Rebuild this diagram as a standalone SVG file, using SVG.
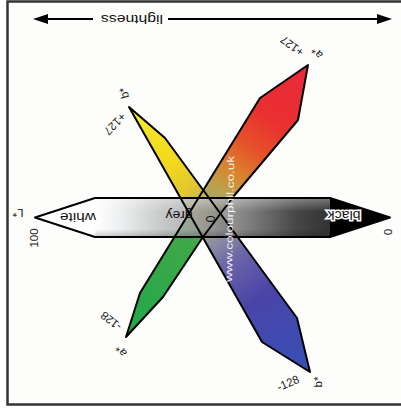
<svg xmlns="http://www.w3.org/2000/svg" width="401" height="411" viewBox="0 0 401 411">
<style>
.lbl{font-family:"Liberation Sans","DejaVu Sans",Arial,sans-serif;font-size:11.5px;fill:#1a1a1a;text-anchor:middle}
.big{font-family:"Liberation Sans","DejaVu Sans",Arial,sans-serif;font-size:12.5px;fill:#111;text-anchor:middle}
.edge{fill:none;stroke:#000;stroke-width:2;stroke-linejoin:round}
.ax{stroke:#000;stroke-width:2}
</style>
<defs>
<linearGradient id="gRG" gradientUnits="userSpaceOnUse" x1="308" y1="65" x2="126" y2="337">
<stop offset="0" stop-color="#e9283b"/>
<stop offset="0.2" stop-color="#ea3030"/>
<stop offset="0.31" stop-color="#e5532a"/>
<stop offset="0.40" stop-color="#d8862e"/>
<stop offset="0.47" stop-color="#b8a450"/>
<stop offset="0.56" stop-color="#9a9c80"/>
<stop offset="0.64" stop-color="#40a848"/>
<stop offset="1" stop-color="#1fa84a"/>
</linearGradient>
<linearGradient id="gYB" gradientUnits="userSpaceOnUse" x1="129" y1="107" x2="310" y2="372">
<stop offset="0" stop-color="#f6ec2a"/>
<stop offset="0.22" stop-color="#f4d81e"/>
<stop offset="0.32" stop-color="#e0c632"/>
<stop offset="0.40" stop-color="#b0aa70"/>
<stop offset="0.48" stop-color="#9696a0"/>
<stop offset="0.58" stop-color="#6a64a8"/>
<stop offset="0.72" stop-color="#4a44a8"/>
<stop offset="1" stop-color="#3650b8"/>
</linearGradient>
<linearGradient id="gL" gradientUnits="userSpaceOnUse" x1="95" y1="0" x2="330" y2="0">
<stop offset="0" stop-color="#ffffff"/>
<stop offset="0.12" stop-color="#e6e8ea"/>
<stop offset="0.3" stop-color="#b6b8b8"/>
<stop offset="0.5" stop-color="#929292"/>
<stop offset="0.7" stop-color="#505050"/>
<stop offset="0.86" stop-color="#181818"/>
<stop offset="1" stop-color="#000000"/>
</linearGradient>
<linearGradient id="gShade" x1="0" y1="0" x2="0" y2="1">
<stop offset="0" stop-color="#fff" stop-opacity="0.35"/>
<stop offset="0.35" stop-color="#fff" stop-opacity="0"/>
<stop offset="0.8" stop-color="#000" stop-opacity="0"/>
<stop offset="1" stop-color="#000" stop-opacity="0.2"/>
</linearGradient>
</defs>

<rect x="0" y="0" width="401" height="411" fill="#ffffff"/>
<g id="frame">
<rect x="7.5" y="1.5" width="410" height="403" fill="#fdfdfb" stroke="#333" stroke-width="2.5"/>
</g>

<g id="lightness-axis">
<line class="ax" x1="46" y1="19" x2="93" y2="19"/>
<line class="ax" x1="168" y1="19" x2="379" y2="19"/>
<polygon points="33,19 48,14 48,24" fill="#000"/>
<polygon points="392,19 377,14 377,24" fill="#000"/>
<text class="big" transform="translate(132,19) rotate(180)" dy="0.35em" textLength="62" lengthAdjust="spacingAndGlyphs">lightness</text>
</g>

<g id="a-axis">
<polygon points="308,65 298,120 233,197 203,237 163,297 126,337 140,293 260,98" fill="url(#gRG)"/>
</g>
<g id="b-axis">
<polygon points="129,107 165,138 297,318 310,372 262,342" fill="url(#gYB)"/>
</g>

<g id="L-axis">
<rect x="95" y="198" width="235" height="39" fill="url(#gL)" opacity="0.8"/>
<rect x="95" y="198" width="235" height="39" fill="url(#gShade)"/>
<polygon points="35,217.5 95,198 95,237" fill="#fff"/>
<polygon points="390,217.5 330,198 330,237" fill="#000"/>
<polygon class="edge" points="35,217.5 95,198 330,198 390,217.5 330,237 95,237"/>
</g>

<g id="outlines">
<polygon class="edge" points="308,65 298,120 233,197 203,237 163,297 126,337 140,293 260,98"/>
<polygon class="edge" points="129,107 165,138 297,318 310,372 262,342"/>
</g>

<g id="watermark">
<text transform="translate(232,282) rotate(-89)" font-family="Liberation Sans, DejaVu Sans, sans-serif" font-size="10" fill="#ffffff" fill-opacity="0.9" textLength="126" lengthAdjust="spacingAndGlyphs">www.colourphil.co.uk</text>
</g>

<g id="labels">
<text class="big" transform="translate(78,217) rotate(180)" dy="0.35em" textLength="36" lengthAdjust="spacingAndGlyphs">white</text>
<text class="big" transform="translate(179,215) rotate(180)" dy="0.35em" textLength="27" lengthAdjust="spacingAndGlyphs">grey</text>
<text class="big" transform="translate(344,215) rotate(180)" dy="0.35em" textLength="33" lengthAdjust="spacingAndGlyphs" stroke="#fff" stroke-width="3" paint-order="stroke">black</text>
<text class="big" transform="translate(210,219) rotate(90)" dy="0.35em">0</text>
<text class="lbl" transform="translate(388,232) rotate(90)" dy="0.35em">0</text>
<text class="lbl" transform="translate(18,213) rotate(180)" dy="0.35em">L*</text>
<text class="lbl" transform="translate(34,238) rotate(-90)" dy="0.35em">100</text>
<text class="lbl" transform="translate(292,46) rotate(216.5)" dy="0.35em">+127</text>
<text class="lbl" transform="translate(317,53) rotate(-128)" dy="0.35em">a*</text>
<text class="lbl" transform="translate(115,124) rotate(135)" dy="0.35em">+127</text>
<text class="lbl" transform="translate(124,93) rotate(-105)" dy="0.35em">b*</text>
<text class="lbl" transform="translate(111,321) rotate(218)" dy="0.35em">-128</text>
<text class="lbl" transform="translate(121,351) rotate(-127)" dy="0.35em">a*</text>
<text class="lbl" transform="translate(288,383) rotate(-23)" dy="0.35em">-128</text>
<text class="lbl" transform="translate(318,382) rotate(-90)" dy="0.35em">b*</text>
</g>
</svg>
